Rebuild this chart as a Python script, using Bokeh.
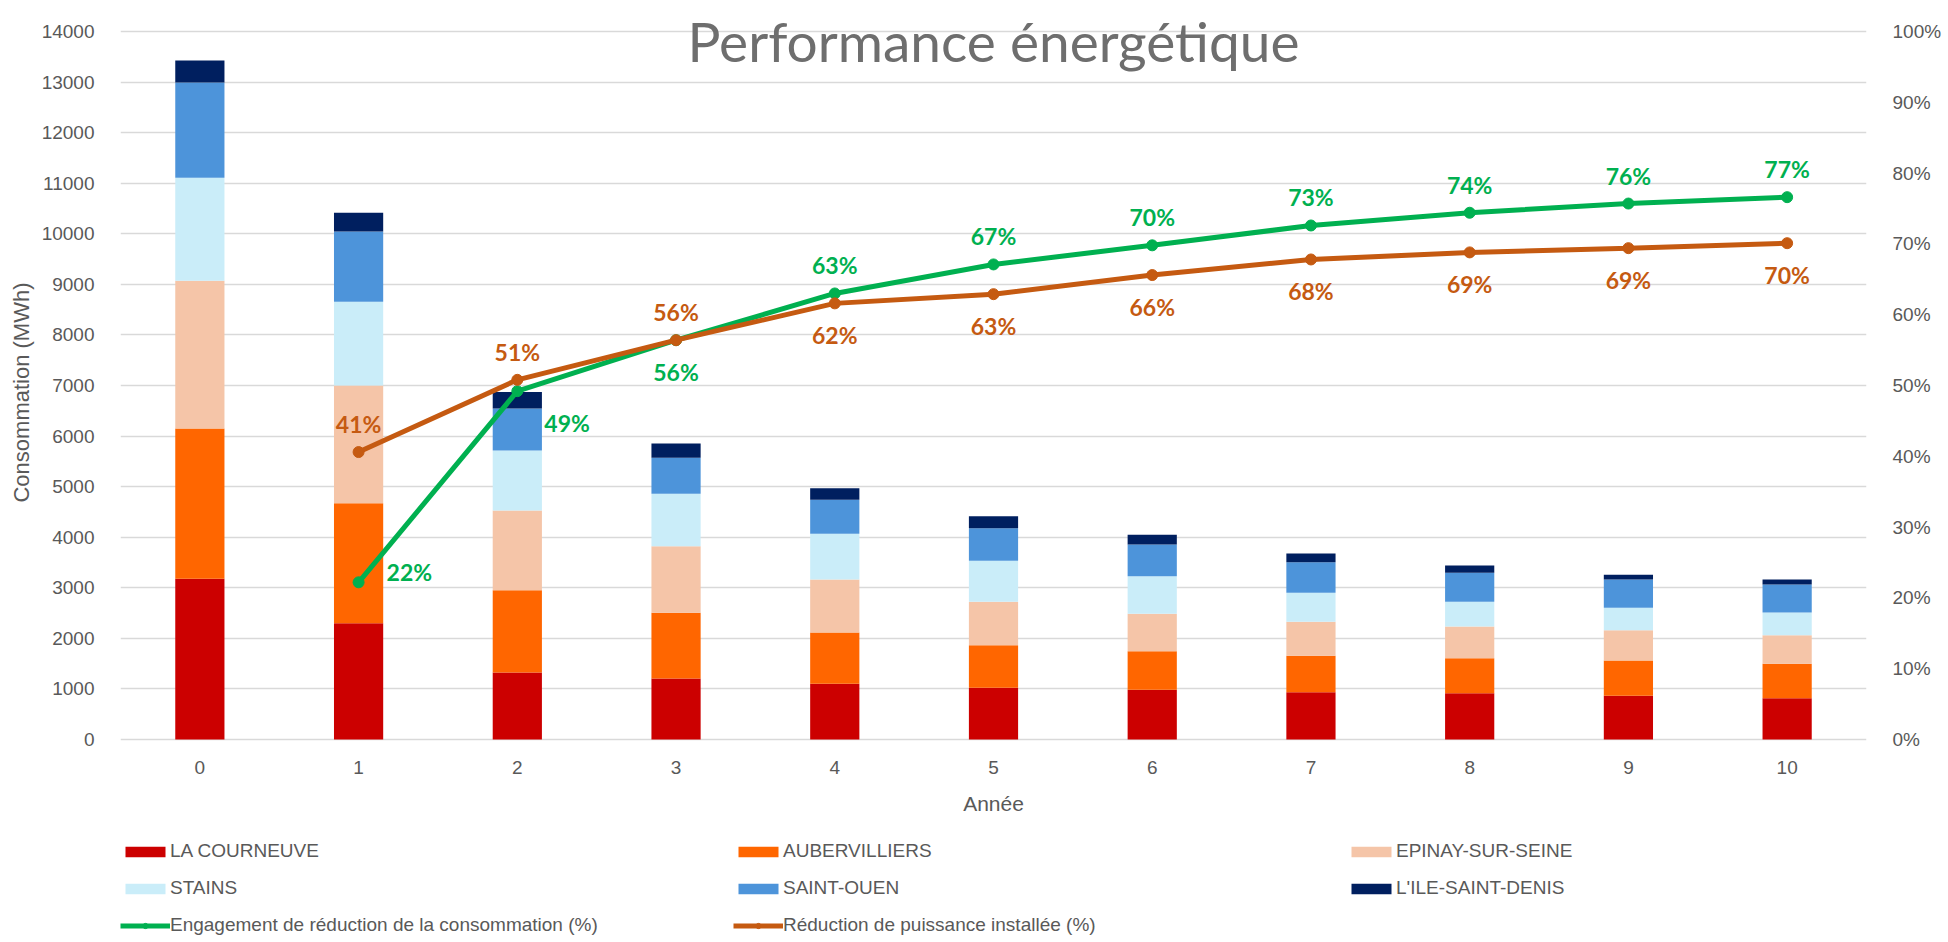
from bokeh.plotting import figure
from bokeh.models import (Range1d, LinearAxis, Legend, LegendItem, Label, Title,
                          FixedTicker, CustomJSTickFormatter, ColumnDataSource)
from bokeh.embed import file_html
from bokeh.resources import INLINE
from bokeh.core.properties import value

# ---------------- data ----------------
years = [0, 1, 2, 3, 4, 5, 6, 7, 8, 9, 10]
la_courneuve = [3180, 2300, 1325, 1206, 1100, 1022, 982, 936, 916, 864, 817]
aubervilliers = [2970, 2370, 1628, 1299, 1016, 844, 765, 719, 692, 698, 679]
epinay = [2920, 2330, 1576, 1318, 1048, 857, 738, 672, 627, 600, 567]
stains = [2040, 1655, 1186, 1035, 903, 810, 745, 573, 488, 442, 449]
saint_ouen = [1880, 1390, 831, 712, 673, 646, 626, 607, 573, 560, 553]
ile_saint_denis = [435, 370, 323, 284, 230, 238, 191, 171, 145, 92, 99]

line_years = [1, 2, 3, 4, 5, 6, 7, 8, 9, 10]
engagement_pct = [22.2, 49.2, 56.4, 63.0, 67.1, 69.8, 72.6, 74.4, 75.7, 76.6]
puissance_pct = [40.6, 50.8, 56.4, 61.6, 62.9, 65.6, 67.8, 68.8, 69.4, 70.1]

series_names = ["LA COURNEUVE", "AUBERVILLIERS", "EPINAY-SUR-SEINE",
                "STAINS", "SAINT-OUEN", "L'ILE-SAINT-DENIS"]
line_names = ["Engagement de réduction de la consommation (%)",
              "Réduction de puissance installée (%)"]
y_max = 14000
y_ticks = list(range(0, y_max + 1, 1000))
pct_ticks = list(range(0, 101, 10))
title_text = "Performance énergétique"
x_title = "Année"
y_title = "Consommation (MWh)"

# ---------------- layout / styles ----------------
W, H = 1944, 938
top_px, zero_px, frame_left_px, frame_right_px = 31, 739, 120, 1872
# the frame covers the whole canvas height, so title and legend sit inside it
px_per_unit = (zero_px - top_px) / y_max
y_min = -(H - zero_px) / px_per_unit
y_top = y_max + top_px / px_per_unit

bar_colors = ["#CC0000", "#FF6600", "#F5C5A8", "#CAEDF9", "#4D94DA", "#001F5F"]
green = "#00B050"
orange = "#C55A11"
grey_txt = "#595959"
grid_col = "#D9D9D9"
green_pos = ["right", "right_low", "below", "above", "above", "above",
             "above", "above", "above", "above"]
orange_pos = ["above", "above", "above", "below", "below", "below",
              "below", "below", "below", "below"]
offsets = {"above": (0, -28, "center"), "below": (0, 32, "center"),
           "right": (28, -10, "left"), "right_low": (27, 32, "left")}

p = figure(width=W, height=H, output_backend="svg", toolbar_location=None,
           x_range=Range1d(-0.5, 10.5), y_range=Range1d(y_min, y_top),
           min_border_left=frame_left_px, min_border_right=W - frame_right_px,
           min_border_top=0, min_border_bottom=0)
p.outline_line_color = None
p.extra_y_ranges = {"pct": Range1d(y_min / y_max * 100, y_top / y_max * 100)}

src = ColumnDataSource(dict(x=years, a=la_courneuve, b=aubervilliers, c=epinay,
                            d=stains, e=saint_ouen, f=ile_saint_denis))
bars = p.vbar_stack(["a", "b", "c", "d", "e", "f"], x="x", width=0.31,
                    color=bar_colors, line_color=None, source=src)

gl = p.line(line_years, engagement_pct, y_range_name="pct", color=green, line_width=5)
gs = p.scatter(line_years, engagement_pct, y_range_name="pct", color=green, size=11)
ol = p.line(line_years, puissance_pct, y_range_name="pct", color=orange, line_width=5)
osc = p.scatter(line_years, puissance_pct, y_range_name="pct", color=orange, size=11)


def add_labels(xs, vals, poss, col):
    for align in ["center", "left"]:
        d = dict(x=[], y=[], t=[], dx=[], dy=[])
        for xv, v, ps in zip(xs, vals, poss):
            dx, dy, al = offsets[ps]
            if al != align:
                continue
            d["x"].append(xv); d["y"].append(v); d["t"].append(f"{round(v)}%")
            d["dx"].append(dx); d["dy"].append(dy)
        if d["x"]:
            p.text(x="x", y="y", text="t", x_offset="dx", y_offset="dy",
                   source=ColumnDataSource(d), y_range_name="pct",
                   text_align=align, text_baseline="middle",
                   text_font=value("Lato"), text_font_style="bold",
                   text_font_size="23px", text_color=col)


add_labels(line_years, engagement_pct, green_pos, green)
add_labels(line_years, puissance_pct, orange_pos, orange)

# axes
p.yaxis.ticker = FixedTicker(ticks=y_ticks)
p.xaxis.ticker = FixedTicker(ticks=years)
p.xaxis.fixed_location = 0
for ax in [p.xaxis[0], p.yaxis[0]]:
    ax.axis_line_color = None
    ax.major_tick_line_color = None
    ax.minor_tick_line_color = None
    ax.major_label_text_color = grey_txt
    ax.major_label_text_font = "Liberation Sans"
    ax.major_label_text_font_size = "19px"
    ax.axis_label_text_color = grey_txt
    ax.axis_label_text_font = "Liberation Sans"
    ax.axis_label_text_font_size = "21px"
    ax.axis_label_text_font_style = "normal"
    ax.major_label_standoff = 20
p.xaxis.major_label_standoff = 15
p.xaxis.axis_label = x_title
p.xaxis.axis_label_standoff = 15

p.add_layout(Title(text=y_title, align="right", offset=282, standoff=10,
                   text_font="Liberation Sans", text_font_size="22px",
                   text_font_style="normal", text_color=grey_txt), "left")

rax = LinearAxis(y_range_name="pct", ticker=FixedTicker(ticks=pct_ticks),
                 formatter=CustomJSTickFormatter(code="return tick + '%'"))
rax.axis_line_color = None
rax.major_tick_line_color = None
rax.minor_tick_line_color = None
rax.major_label_text_color = grey_txt
rax.major_label_text_font = "Liberation Sans"
rax.major_label_text_font_size = "19px"
rax.major_label_standoff = 20
p.add_layout(rax, "right")

p.xgrid.grid_line_color = None
p.ygrid.grid_line_color = grid_col
p.ygrid.grid_line_width = 1.5

p.add_layout(Label(x=5, y=y_max, y_offset=-9, text=title_text, text_align="center",
                   text_baseline="alphabetic", text_font="Lato", text_font_size="55px",
                   text_color="#6E6E6E"))

items = [LegendItem(label=n, renderers=[r]) for n, r in zip(series_names, bars)]
items.append(LegendItem(label=line_names[0], renderers=[gl, gs]))
items.append(LegendItem(label=line_names[1], renderers=[ol, osc]))
legend = Legend(items=items, orientation="horizontal", ncols=3,
                location=(0, 2), margin=0, padding=0, spacing=15,
                glyph_width=50, glyph_height=13, label_height=19,
                label_width=548, label_standoff=0,
                label_text_font="Liberation Sans", label_text_font_size="19px",
                label_text_color=grey_txt, border_line_color=None,
                background_fill_alpha=0)
p.add_layout(legend)

open("out.html", "w").write(file_html(p, INLINE))
